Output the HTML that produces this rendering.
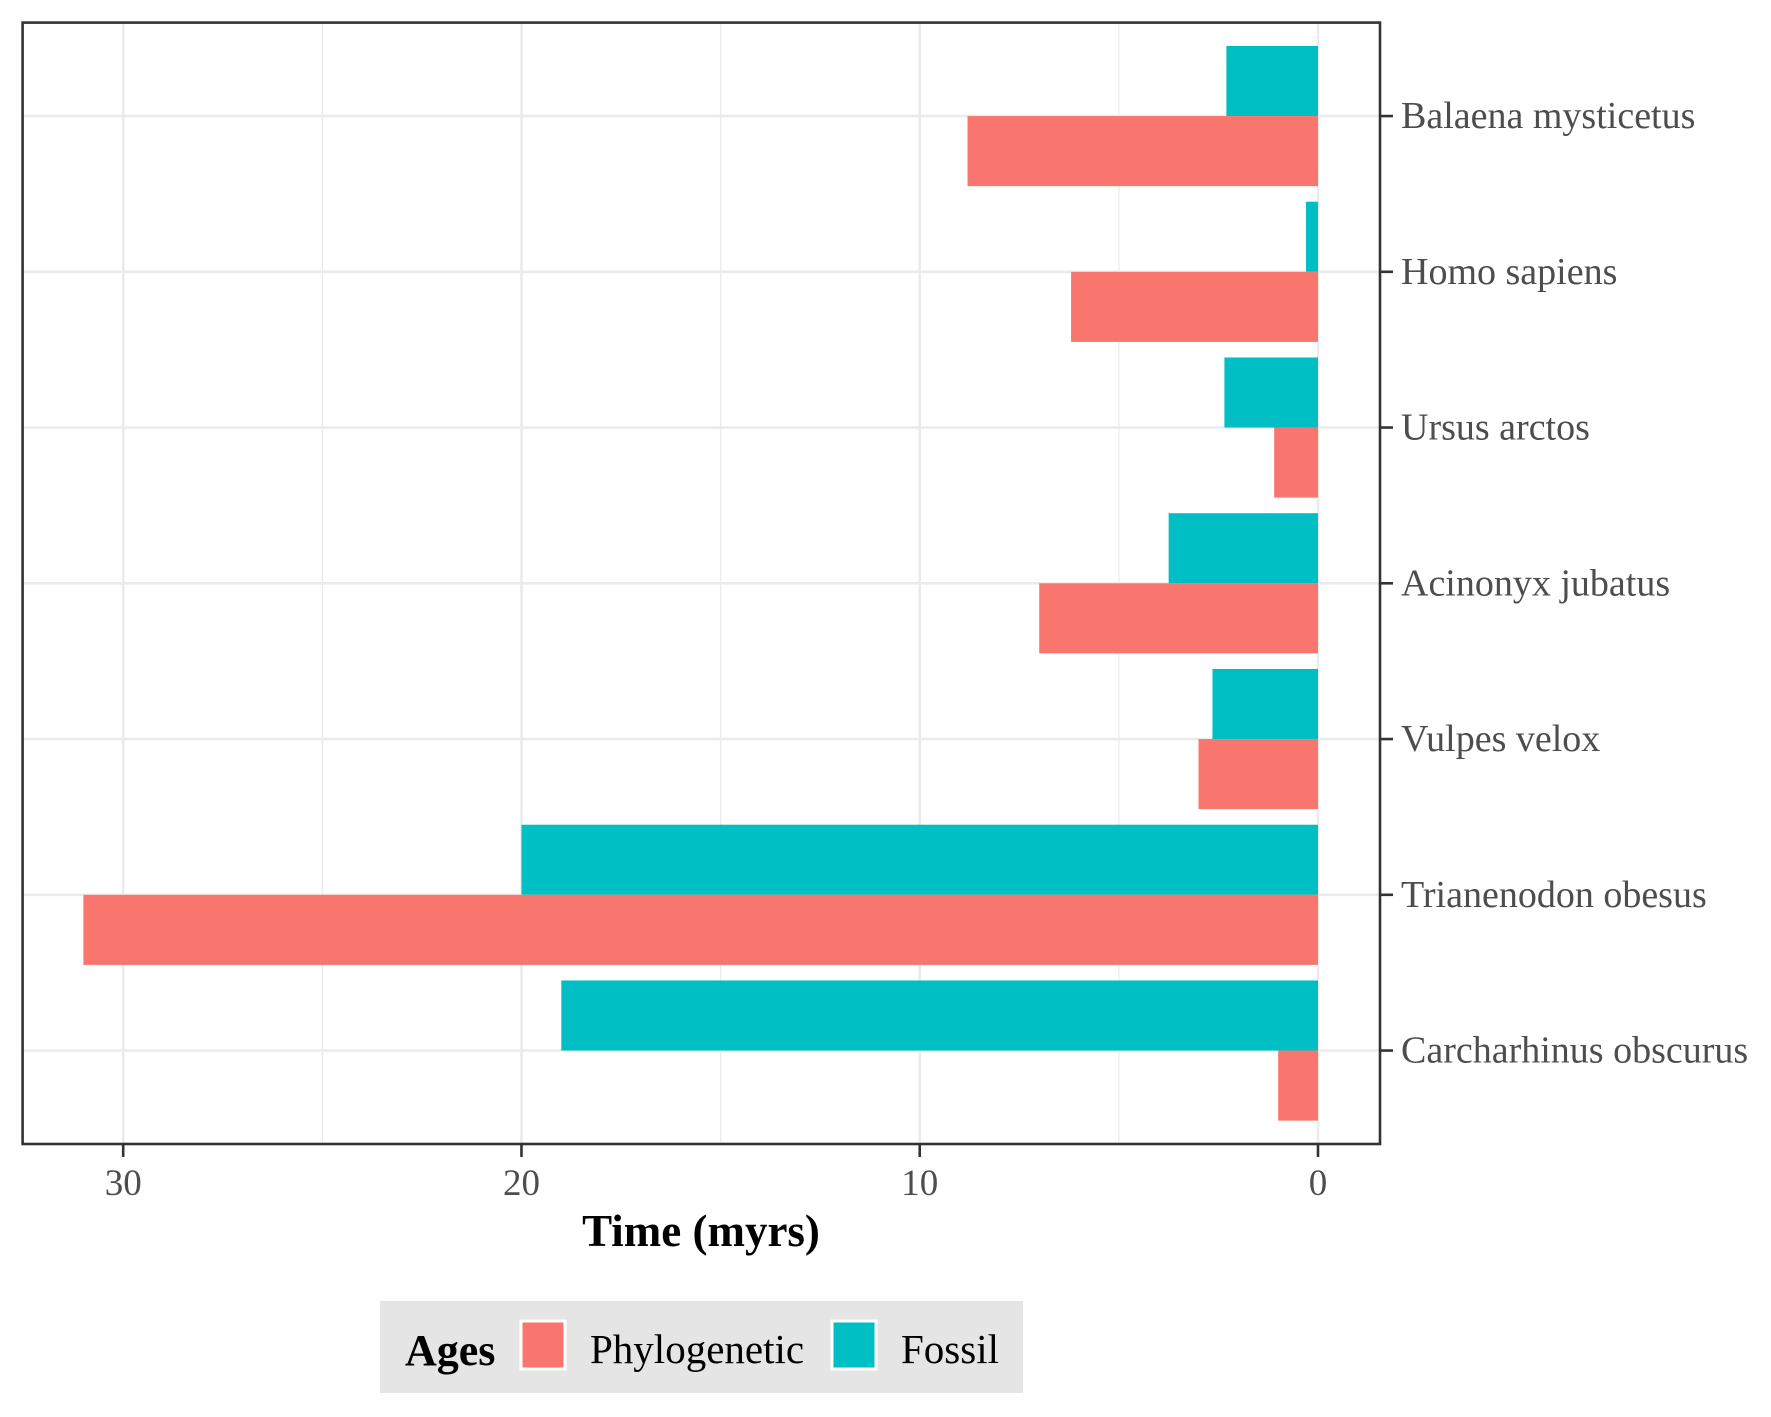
<!DOCTYPE html>
<html><head><meta charset="utf-8"><style>
body{margin:0;background:#fff}
svg{display:block;font-family:"Liberation Serif",serif}
</style></head><body>
<svg id="c" width="1771" height="1417" viewBox="0 0 1771 1417">
<rect x="0" y="0" width="1771" height="1417" fill="#fff"/>
<g id="grid"></g><g id="bars"></g><g id="axes"></g>
<g>
<rect x="380" y="1301" width="643" height="92" fill="#e5e5e5"/>
<text x="405" y="1365" font-size="44" font-weight="bold">Ages</text>
<rect x="521" y="1321" width="44" height="48" fill="#F8766D" stroke="#fff" stroke-width="3"/>
<text x="590" y="1363" font-size="41" fill="#000">Phylogenetic</text>
<rect x="832" y="1321" width="44" height="48" fill="#00BFC4" stroke="#fff" stroke-width="3"/>
<text x="901" y="1363" font-size="41" fill="#000">Fossil</text>
</g>
</svg>
<script>
const categories=["Balaena mysticetus","Homo sapiens","Ursus arctos","Acinonyx jubatus","Vulpes velox","Trianenodon obesus","Carcharhinus obscurus"];
const fossil=[2.3,0.3,2.35,3.75,2.65,20,19];
const phylogenetic=[8.8,6.2,1.1,7,3,31,1];
const xTicks=[30,20,10,0];
const minorTicks=[25,15,5];
const NS="http://www.w3.org/2000/svg";
const L=22.6,R=1380,T=22.6,B=1144;
function X(v){return 1318-(v)*(1318-123.2)/30;}
const step=(B-T)/(categories.length-1+1.2);
function Y(i){return T+step*(i+0.6);}
function mk(tag,attrs,parent){const e=document.createElementNS(NS,tag);for(const k in attrs)e.setAttribute(k,attrs[k]);document.getElementById(parent).appendChild(e);return e;}
minorTicks.forEach(v=>{const e=mk('line',{x1:X(v),x2:X(v),y1:T,y2:B,stroke:'#ebebeb','stroke-width':1.3},'grid');

});
xTicks.forEach(v=>{const e=mk('line',{x1:X(v),x2:X(v),y1:T,y2:B,stroke:'#ebebeb','stroke-width':2.6},'grid');

});
categories.forEach((c,i)=>{const e=mk('line',{x1:L,x2:R,y1:Y(i),y2:Y(i),stroke:'#ebebeb','stroke-width':2.6},'grid');

});
const bw=step*0.45;
categories.forEach((c,i)=>{
 const f=mk('rect',{x:X(fossil[i]),y:Y(i)-bw,width:X(0)-X(fossil[i]),height:bw,fill:'#00BFC4'},'bars');
 
 
 const p=mk('rect',{x:X(phylogenetic[i]),y:Y(i),width:X(0)-X(phylogenetic[i]),height:bw,fill:'#F8766D'},'bars');
 
 
});
const fr=mk('rect',{x:L,y:T,width:R-L,height:B-T,fill:'none',stroke:'#333','stroke-width':2.6},'axes');


xTicks.forEach(v=>{
 const t=mk('line',{x1:X(v),x2:X(v),y1:B,y2:B+13,stroke:'#333','stroke-width':2.6},'axes');
 
 
 const l=mk('text',{x:X(v),y:B+51,'text-anchor':'middle','font-size':37,fill:'#4d4d4d'},'axes');
 l.textContent=v;
 
 
});
categories.forEach((c,i)=>{
 const t=mk('line',{x1:R,x2:R+13,y1:Y(i),y2:Y(i),stroke:'#333','stroke-width':2.6},'axes');
 
 
 const l=mk('text',{x:1401,y:Y(i)+12,'font-size':38,fill:'#4d4d4d'},'axes');
 l.textContent=c;
 
 
});
const xt=mk('text',{x:701,y:1246,'text-anchor':'middle','font-size':45,'font-weight':'bold',fill:'#000'},'axes');
xt.textContent='Time (myrs)';


</script>
</body></html>
